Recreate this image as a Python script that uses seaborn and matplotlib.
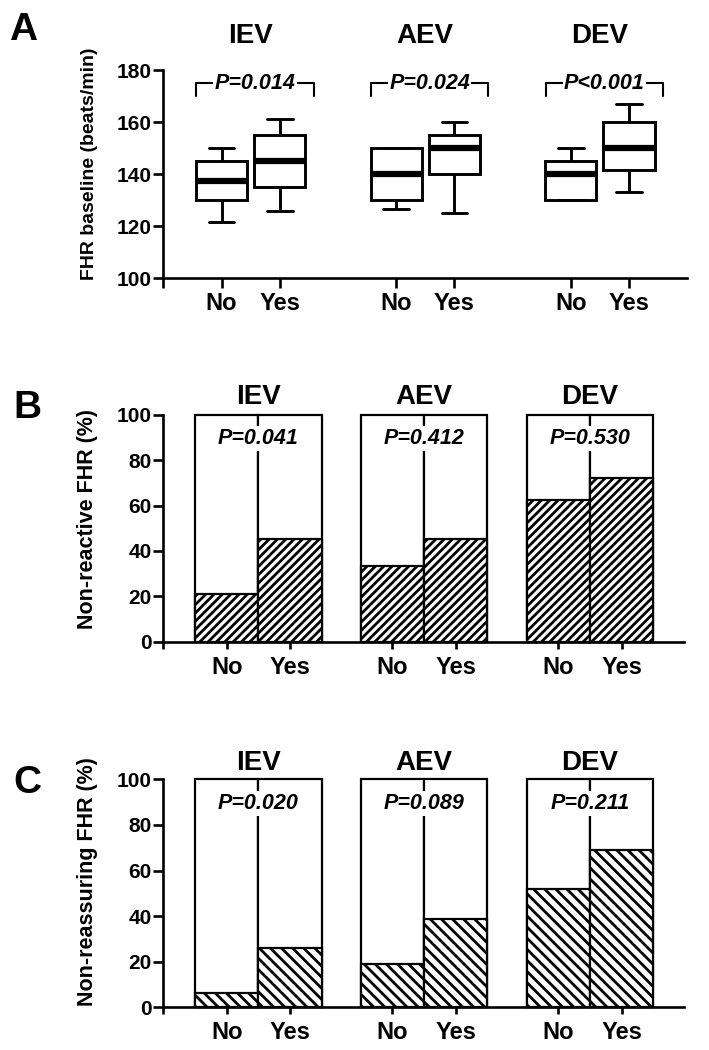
import numpy as np
import pandas as pd
import seaborn as sns
import matplotlib.pyplot as plt

# Groups and exposure levels
groups = ['IEV', 'AEV', 'DEV']
exposure = ['No', 'Yes']

# Panel A: FHR baseline five-number summaries (whisker low, Q1, median, Q3, whisker high)
fhr_no = [[121.5, 130, 137.5, 145, 150],
          [126.5, 130, 140, 150, 150],
          [130, 130, 140, 145, 150]]
fhr_yes = [[126, 135, 145, 155, 161],
           [125, 140, 150, 155, 160],
           [133, 141.5, 150, 160, 167]]
p_fhr = ['P=0.014', 'P=0.024', 'P<0.001']

# Panel B: non-reactive FHR (%)
nonreactive_no = [20.8, 33.3, 62.5]
nonreactive_yes = [45.2, 45.2, 72.0]
p_nonreactive = ['P=0.041', 'P=0.412', 'P=0.530']

# Panel C: non-reassuring FHR (%)
nonreassuring_no = [6.3, 18.8, 52.0]
nonreassuring_yes = [25.8, 38.7, 68.8]
p_nonreassuring = ['P=0.020', 'P=0.089', 'P=0.211']

full_scale = 100

sns.set_style('ticks')
plt.rcParams['font.family'] = ['Liberation Sans', 'DejaVu Sans']
plt.rcParams['font.weight'] = 'bold'
plt.rcParams['axes.labelweight'] = 'bold'
for key in ['text.color', 'axes.labelcolor', 'axes.edgecolor', 'xtick.color', 'ytick.color']:
    plt.rcParams[key] = 'black'
plt.rcParams['axes.linewidth'] = 1.9
plt.rcParams['xtick.major.width'] = 1.9
plt.rcParams['ytick.major.width'] = 1.9
plt.rcParams['xtick.minor.width'] = 1.9
plt.rcParams['hatch.linewidth'] = 2.0

W, H = 709, 1050
fig = plt.figure(figsize=(W / 100, H / 100), dpi=100)


def px_axes(left, top, right, bottom):
    return fig.add_axes([left / W, 1 - bottom / H, (right - left) / W, (bottom - top) / H])


def style_axis(ax, xlim, ticks, xtick_len, xpad, label_y):
    sns.despine(ax=ax)
    ax.set_xlim(*xlim)
    ax.set_xticks(ticks, exposure * len(groups))
    ax.set_xticks([xlim[0]], minor=True)
    ax.tick_params(axis='x', which='both', length=xtick_len, pad=xpad, labelsize=17,
                   color='black', labelcolor='black')
    ax.tick_params(axis='y', length=7.2, pad=1, labelsize=15, color='black',
                   labelcolor='black')
    ax.set_xlabel('')
    ax.yaxis.set_label_coords(-0.125, label_y)


# ---------- Panel A: box plots ----------
rows = []
for i, g in enumerate(groups):
    for v in fhr_no[i]:
        rows.append({'group': g, 'exposure': 'No', 'fhr': v})
    for v in fhr_yes[i]:
        rows.append({'group': g, 'exposure': 'Yes', 'fhr': v})
box_df = pd.DataFrame(rows)

box_width = 2 / 3
axA = px_axes(163.3, 70, 687.3, 278.3)
sns.boxplot(data=box_df, x='group', y='fhr', hue='exposure', order=groups,
            hue_order=exposure, width=box_width, gap=0.12, whis=(0, 100),
            palette=['white', 'white'], linecolor='black', linewidth=2.1,
            medianprops={'linewidth': 4.5}, showfliers=False, legend=False, ax=axA)
axA.set_ylim(100, 180)
axA.set_yticks(np.arange(100, 181, 20))
axA.set_ylabel('FHR baseline (beats/min)', fontsize=14)
ticksA = [i + s * box_width / 4 for i in range(len(groups)) for s in (-1, 1)]
style_axis(axA, (-0.5, 2.5), ticksA, 7.2, 3, 0.549)

bracket_top, bracket_drop = 175, 5
for i, p in enumerate(p_fhr):
    x0, x1 = i - 0.31, i + 0.36
    axA.plot([x0, x0, x1, x1], [bracket_top - bracket_drop, bracket_top, bracket_top,
             bracket_top - bracket_drop], color='black', lw=1.5, clip_on=False)
    axA.text((x0 + x1) / 2, bracket_top, p, ha='center', va='center', fontsize=15.5,
             style='italic', fontweight='bold',
             bbox=dict(facecolor='white', edgecolor='none', pad=1))
    axA.text(i, 1.128, groups[i], transform=axA.get_xaxis_transform(), ha='center',
             va='baseline', fontsize=20, fontweight='bold')


# ---------- Panels B and C: stacked percentage bars ----------
bar_width = 0.764


def pct_panel(ax, no_vals, yes_vals, pvals, hatch, ylabel, title_y, label_y):
    df = pd.DataFrame({
        'group': groups * 2,
        'exposure': ['No'] * len(groups) + ['Yes'] * len(groups),
        'pct': list(no_vals) + list(yes_vals),
    })
    df['full'] = full_scale
    sns.barplot(data=df, x='group', y='full', hue='exposure', order=groups,
                hue_order=exposure, width=bar_width, gap=0, errorbar=None,
                palette=['white', 'white'], edgecolor='black', linewidth=1.6,
                saturation=1, legend=False, ax=ax)
    n_before = len(ax.patches)
    sns.barplot(data=df, x='group', y='pct', hue='exposure', order=groups,
                hue_order=exposure, width=bar_width, gap=0, errorbar=None,
                palette=['white', 'white'], edgecolor='black', linewidth=1.6,
                saturation=1, legend=False, ax=ax)
    for patch in ax.patches[n_before:]:
        patch.set_hatch(hatch)
    for patch in ax.patches:
        patch.set_clip_on(False)
    ax.set_ylim(0, full_scale)
    ax.set_yticks(np.arange(0, 101, 20))
    ax.set_ylabel(ylabel, fontsize=15.5)
    ticks = [i + s * bar_width / 4 for i in range(len(groups)) for s in (-1, 1)]
    style_axis(ax, (-0.573, 2.567), ticks, 5, 5, label_y)
    for i, p in enumerate(pvals):
        ax.text(i, 89.5, p, ha='center', va='center', fontsize=15.5, style='italic',
                fontweight='bold', bbox=dict(facecolor='white', edgecolor='none', pad=1.5))
        ax.text(i, title_y, groups[i], transform=ax.get_xaxis_transform(), ha='center',
                va='baseline', fontsize=20, fontweight='bold')


axB = px_axes(163.3, 414.7, 684, 641.7)
pct_panel(axB, nonreactive_no, nonreactive_yes, p_nonreactive, '////',
          'Non-reactive FHR (%)', 1.047, 0.54)

axC = px_axes(163.3, 779.3, 684, 1007.3)
pct_panel(axC, nonreassuring_no, nonreassuring_yes, p_nonreassuring, '\\\\\\',
          'Non-reassuring FHR (%)', 1.039, 0.55)

# Panel letters
for letter, (x, y) in zip('ABC', [(9, 40), (13, 418), (13, 793)]):
    fig.text(x / W, 1 - y / H, letter, fontsize=28, fontweight='bold',
             ha='left', va='baseline')

plt.savefig('out.png', dpi=100)
